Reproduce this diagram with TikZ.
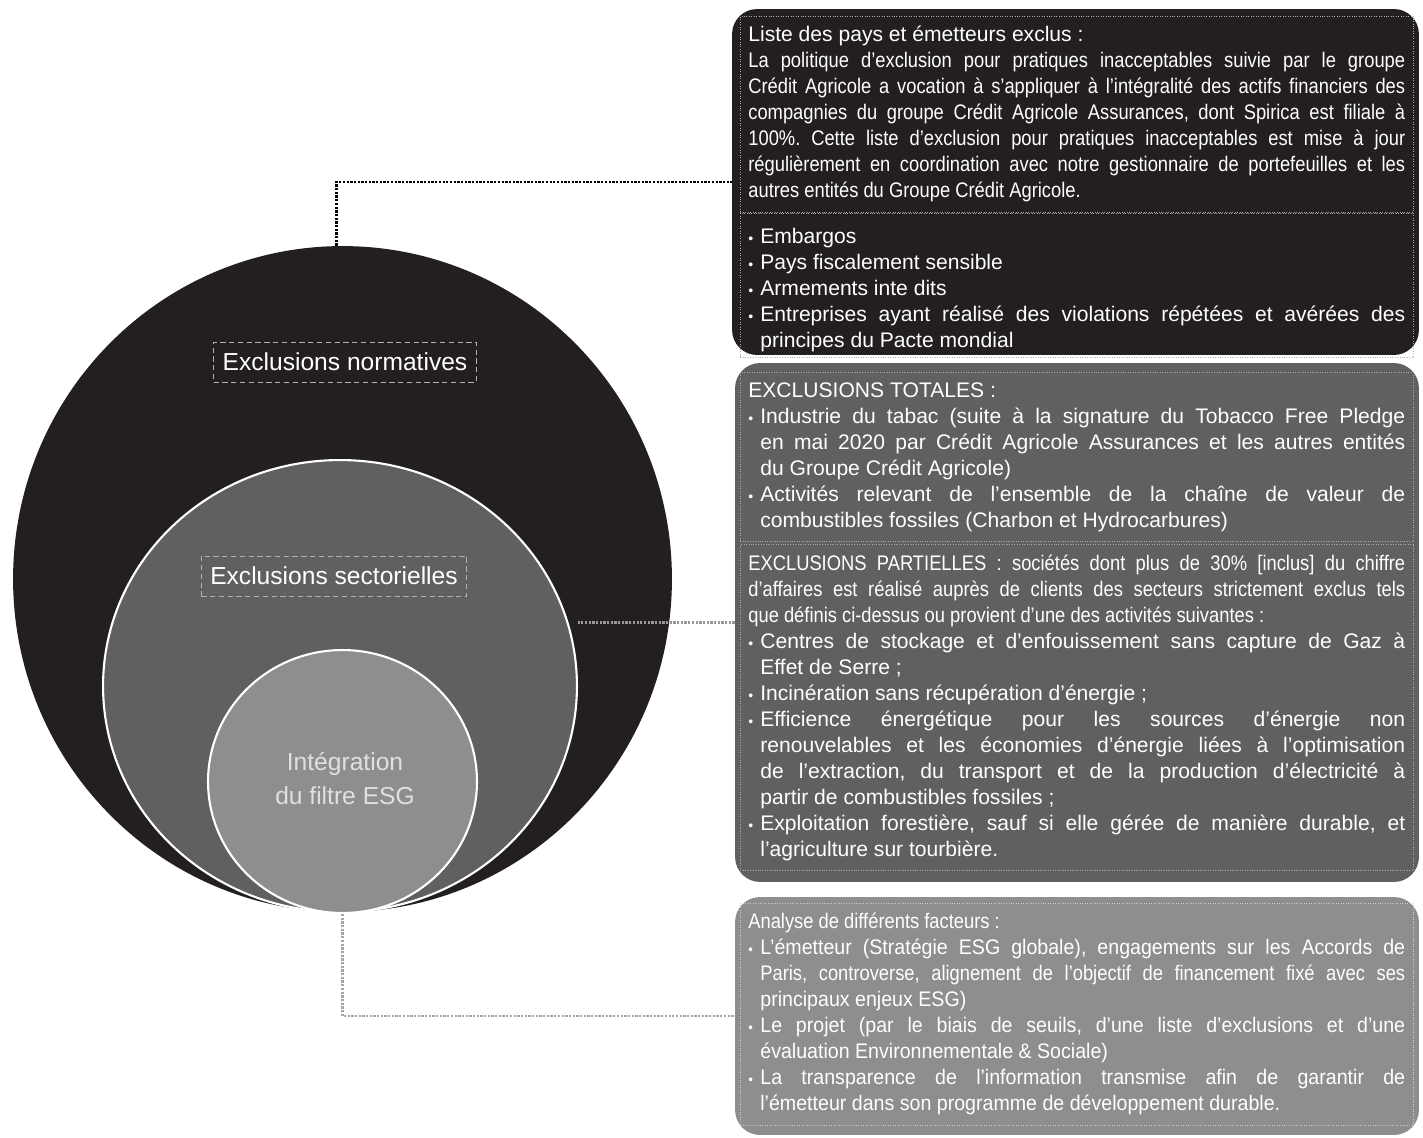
\documentclass[tikz,border=0pt]{standalone}
\usepackage{fontspec}
\setmainfont{Liberation Sans}
\newfontfamily\serre[FakeStretch=0.87]{Liberation Sans}
\newfontfamily\demi[FakeStretch=0.93]{Liberation Sans}
\usetikzlibrary{positioning,shapes.geometric}
\definecolor{cnoir}{RGB}{35,31,32}
\definecolor{cgris}{RGB}{96,96,98}
\definecolor{cclair}{RGB}{141,142,144}
\frenchspacing
\hyphenpenalty=10000
\exhyphenpenalty=10000
\newcommand\puce{\par\hangindent=0.24cm\hangafter=1\noindent\makebox[0.24cm][l]{\footnotesize•}}

\begin{document}
\begin{tikzpicture}[x=0.02cm,y=-0.02cm,
    disque/.style={ellipse,inner sep=0pt},
    panneau/.style={rectangle,rounded corners=0.5cm,inner sep=0pt},
    txt/.style={anchor=north west,inner xsep=0.16cm,inner ysep=0.2cm,text width=13.14cm,
      align=justify,draw=gray!65,densely dotted,line width=0.4pt,text=white,
      font=\fontsize{12}{14.8}\selectfont},
    etiq/.style={draw=gray!60,densely dashed,line width=0.4pt,text=white,
      inner xsep=0.18cm,minimum height=0.8cm,font=\fontsize{14}{16}\selectfont},
    lien/.style={line width=1.2pt,dash pattern=on 1.3pt off 0.8pt}]
  \useasboundingbox (0,0) rectangle (1423,1137);
  % cercles
  \node[disque,fill=cnoir,minimum width=13.18cm,minimum height=13.32cm] (norm) at (342.5,579) {};
  \node[disque,fill=cgris,draw=white,line width=1.2pt,minimum width=9.48cm,minimum height=9.04cm] (sect) at (340,686) {};
  \node[disque,fill=cclair,draw=white,line width=1.2pt,minimum width=5.38cm,minimum height=5.26cm] (esg) at (342.5,781.5) {};
  \node[etiq] (lnorm) at (345,362) {Exclusions normatives};
  \node[etiq] (lsect) at (334,576) {Exclusions sectorielles};
  \node[align=center,text=white!88!black,font=\fontsize{14}{19.3}\selectfont] (lesg) at (345,779) {Intégration\\du filtre ESG};
  % panneaux
  \node[panneau,fill=cnoir,minimum width=13.74cm,minimum height=6.92cm] (pnorm) at (1075.5,182) {};
  \node[panneau,fill=cgris,minimum width=13.68cm,minimum height=10.38cm] (psect) at (1077,622.5) {};
  \node[panneau,fill=cclair,minimum width=13.68cm,minimum height=4.76cm] (pesg) at (1077,1016) {};
  % textes
  \node[txt] (liste) at (740,16) {\noindent Liste des pays et émetteurs exclus :\\
    {\serre La politique d’exclusion pour pratiques inacceptables suivie par le groupe\linebreak
    Crédit Agricole a vocation à s’appliquer à l’intégralité des actifs financiers des\linebreak
    compagnies du groupe Crédit Agricole Assurances, dont Spirica est filiale à\linebreak
    100\%. Cette liste d’exclusion pour pratiques inacceptables est mise à jour\linebreak
    régulièrement en coordination avec notre gestionnaire de portefeuilles et les\linebreak
    autres entités du Groupe Crédit Agricole.}\par};
  \node[txt,inner ysep=0.1cm] (puces) at (liste.south west) {%
    \puce Embargos
    \puce Pays fiscalement sensible
    \puce Armements inte dits
    \puce Entreprises ayant réalisé des violations répétées et avérées des\linebreak
    principes du Pacte mondial\par};
  \node[txt] (totales) at (740,372) {\noindent EXCLUSIONS TOTALES :
    \puce Industrie du tabac (suite à la signature du Tobacco Free Pledge\linebreak
    en mai 2020 par Crédit Agricole Assurances et les autres entités\linebreak
    du Groupe Crédit Agricole)
    \puce Activités relevant de l’ensemble de la chaîne de valeur de\linebreak
    combustibles fossiles (Charbon et Hydrocarbures)\par};
  \node[txt,below=0.05cm of totales.south west,anchor=north west] (partielles) {%
    \noindent{\serre EXCLUSIONS PARTIELLES : sociétés dont plus de 30\% [inclus] du chiffre\linebreak
    d’affaires est réalisé auprès de clients des secteurs strictement exclus tels\linebreak
    que définis ci-dessus ou provient d’une des activités suivantes :}
    \puce Centres de stockage et d’enfouissement sans capture de Gaz à\linebreak
    Effet de Serre~;
    \puce Incinération sans récupération d’énergie~;
    \puce Efficience énergétique pour les sources d’énergie non\linebreak
    renouvelables et les économies d’énergie liées à l’optimisation\linebreak
    de l’extraction, du transport et de la production d’électricité à\linebreak
    partir de combustibles fossiles~;
    \puce Exploitation forestière, sauf si elle gérée de manière durable, et\linebreak
    l’agriculture sur tourbière.\par};
  \node[txt,draw=gray!40] (facteurs) at (740,903) {\demi\noindent{\serre Analyse de différents facteurs :}
    \puce L’émetteur (Stratégie ESG globale), engagements sur les Accords de\linebreak
    {\serre Paris, controverse, alignement de l’objectif de financement fixé avec ses}\linebreak
    principaux enjeux ESG)
    \puce Le projet (par le biais de seuils, d’une liste d’exclusions et d’une\linebreak
    évaluation Environnementale \& Sociale)
    \puce La transparence de l’information transmise afin de garantir de\linebreak
    l’émetteur dans son programme de développement durable.\par};
  % liaisons
  \draw[lien,black] ([xshift=-0.12cm]norm.north) |- (pnorm.west);
  \draw[lien,gray!80] (psect.west) -- (psect.west -| sect.east);
  \draw[lien,gray!70] (esg.south) |- (pesg.west);
\end{tikzpicture}
\end{document}
